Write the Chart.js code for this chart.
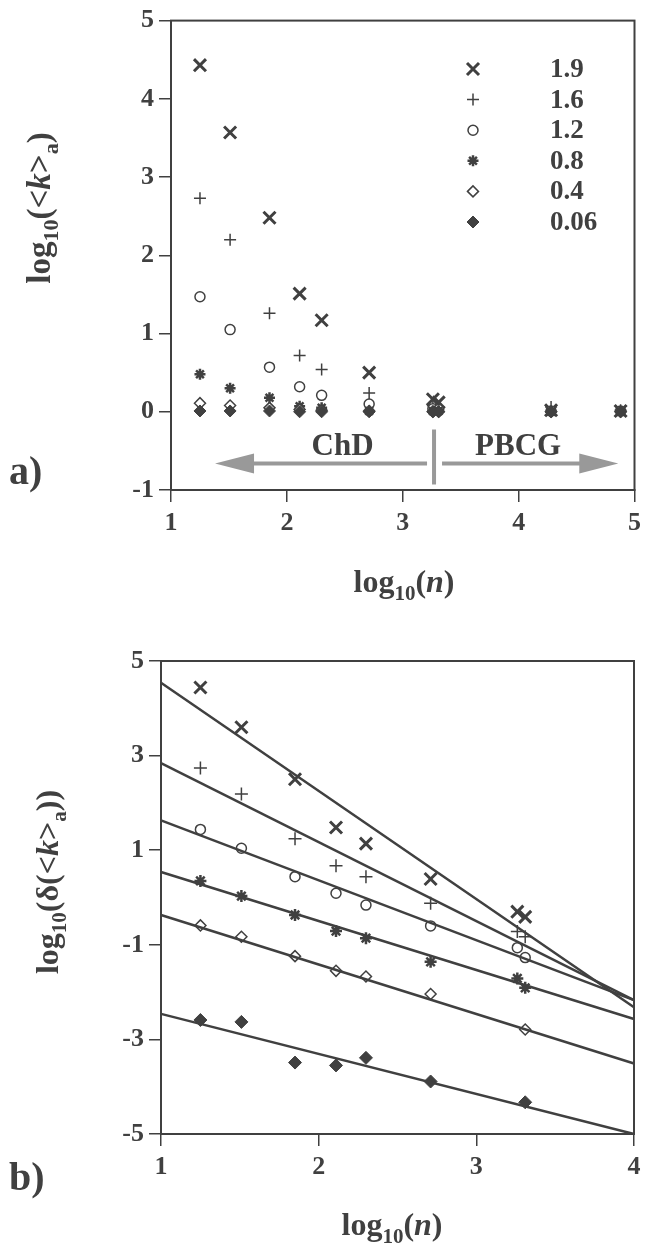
<!DOCTYPE html>
<html>
<head>
<meta charset="utf-8">
<script src="https://cdn.jsdelivr.net/npm/chart.js@4.4.1/dist/chart.umd.min.js"></script>
<style>
  body { margin: 0; background: #fff; width: 647px; height: 1250px; overflow: hidden; }
  .panel { position: absolute; left: 0; width: 647px; }
  #panelA { top: 0; height: 620px; }
  #panelB { top: 620px; height: 630px; }
</style>
</head>
<body>
<div class="panel" id="panelA"><canvas id="chartA" width="647" height="620"></canvas></div>
<div class="panel" id="panelB"><canvas id="chartB" width="647" height="630"></canvas></div>
<script>
// ---- data ----
const seriesNames = ['1.9', '1.6', '1.2', '0.8', '0.4', '0.06'];

// panel a: log10(<k>_a) against log10(n)
const logN = [1.25, 1.51, 1.85, 2.11, 2.30, 2.71, 3.26, 3.31, 4.28, 4.88];
const k19 = [4.43, 3.57, 2.48, 1.51, 1.17, 0.50, 0.16, 0.12, 0.02, 0.01];
const k16 = [2.73, 2.20, 1.26, 0.72, 0.54, 0.24, 0.08, 0.06, 0.06, 0.02];
const k12 = [1.47, 1.05, 0.57, 0.32, 0.21, 0.10, 0.04, 0.03, 0.01, 0.01];
const k08 = [0.48, 0.30, 0.18, 0.07, 0.05, 0.01, 0.01, 0.01, 0.00, 0.00];
const k04 = [0.11, 0.08, 0.05, 0.03, 0.02, 0.01, 0.00, 0.00, 0.00, 0.00];
const k006 = [0.01, 0.01, 0.01, 0.00, 0.00, 0.00, 0.00, 0.00, 0.00, 0.00];

// panel b: log10(delta(<k>_a)) against log10(n), with fitted lines
const logNb = [1.25, 1.51, 1.85, 2.11, 2.30, 2.71, 3.26, 3.31];
const d19 = [4.44, 3.60, 2.50, 1.48, 1.14, 0.39, -0.30, -0.41];
const d16 = [2.74, 2.19, 1.24, 0.67, 0.44, -0.12, -0.72, -0.83];
const d12 = [1.44, 1.04, 0.44, 0.09, -0.16, -0.60, -1.06, -1.27];
const d08 = [0.35, 0.03, -0.37, -0.71, -0.86, -1.36, -1.71, -1.91];
const d04 = [-0.59, -0.83, -1.24, -1.55, -1.67, -2.04, null, -2.79];
const d006 = [-2.59, -2.63, -3.49, -3.55, -3.39, -3.89, null, -4.33];

const fitX = [1, 4];
const fit19 = [4.54, -2.32];
const fit16 = [2.84, -2.17];
const fit12 = [1.63, -2.17];
const fit08 = [0.54, -2.57];
const fit04 = [-0.37, -3.51];
const fit006 = [-2.46, -5.00];

const ticksA_x = [1, 2, 3, 4, 5];
const ticksA_y = [-1, 0, 1, 2, 3, 4, 5];
const ticksB_x = [1, 2, 3, 4];
const ticksB_y = [-5, -3, -1, 1, 3, 5];

// ChD / PBCG split on panel a
const splitAt = 3.27;
const arrowRange = [1.38, 4.86];
const arrowLevel = -0.66;

// ---- styles ----
const INK = '#404040';
const SERIF = '"Liberation Serif", "DejaVu Serif", serif';

const markA = [
  { pointStyle: 'crossRot', radius: 8.5, borderWidth: 3, fill: INK },
  { pointStyle: 'cross', radius: 6, borderWidth: 1.5, fill: INK },
  { pointStyle: 'circle', radius: 5, borderWidth: 1.5, fill: '#fff' },
  { pointStyle: 'star', radius: 5.5, borderWidth: 2.5, fill: INK },
  { pointStyle: 'rectRot', radius: 5.5, borderWidth: 1.5, fill: '#fff' },
  { pointStyle: 'rectRot', radius: 6, borderWidth: 1, fill: INK }
];
const markB = [
  { pointStyle: 'crossRot', radius: 8.5, borderWidth: 3, fill: INK },
  { pointStyle: 'cross', radius: 6.5, borderWidth: 1.5, fill: INK },
  { pointStyle: 'circle', radius: 5, borderWidth: 1.5, fill: '#fff' },
  { pointStyle: 'star', radius: 6, borderWidth: 2.5, fill: INK },
  { pointStyle: 'rectRot', radius: 5.5, borderWidth: 1.5, fill: '#fff' },
  { pointStyle: 'rectRot', radius: 6.5, borderWidth: 1, fill: INK }
];

function pts(xs, ys) {
  return xs.map((x, i) => ({ x: x, y: ys[i] })).filter(p => p.y !== null);
}

function markerSet(label, data, m) {
  return {
    type: 'scatter',
    label: label,
    data: data,
    pointStyle: m.pointStyle,
    pointRadius: m.radius,
    pointBorderWidth: m.borderWidth,
    pointBorderColor: INK,
    pointBackgroundColor: m.fill,
    showLine: false,
    clip: false
  };
}

// text with sub/italic pieces: [text, size, italic, dy]
function drawRich(ctx, parts, cx, cy) {
  let total = 0;
  parts.forEach(p => {
    ctx.font = (p[2] ? 'italic ' : '') + 'bold ' + p[1] + 'px ' + SERIF;
    total += ctx.measureText(p[0]).width;
  });
  let x = cx - total / 2;
  ctx.textBaseline = 'alphabetic';
  ctx.textAlign = 'left';
  parts.forEach(p => {
    ctx.font = (p[2] ? 'italic ' : '') + 'bold ' + p[1] + 'px ' + SERIF;
    ctx.fillText(p[0], x, cy + (p[3] || 0));
    x += ctx.measureText(p[0]).width;
  });
}

const titleN = [['log', 32], ['10', 21, false, 8], ['(', 32], ['n', 32, true], [')', 32]];
const titleK = [['log', 33], ['10', 22, false, 8], ['(<', 33], ['k', 33, true], ['>', 33], ['a', 22, false, 8], [')', 33]];
const titleDK = [['log', 32], ['10', 21, false, 8], ['(\u03B4(<', 32], ['k', 32, true], ['>', 32], ['a', 21, false, 8], ['))', 32]];

function frameAndTitles(cfg) {
  return {
    id: 'frame' + cfg.tag,
    afterDraw(chart) {
      const ctx = chart.ctx;
      const a = chart.chartArea;
      ctx.save();
      ctx.strokeStyle = INK;
      ctx.lineWidth = 2;
      ctx.strokeRect(a.left, a.top, a.right - a.left, a.bottom - a.top);
      ctx.fillStyle = INK;
      drawRich(ctx, titleN, cfg.xTitle[0], cfg.xTitle[1]);
      ctx.save();
      ctx.translate(cfg.yTitle[0], cfg.yTitle[1]);
      ctx.rotate(-Math.PI / 2);
      drawRich(ctx, cfg.yParts, 0, 0);
      ctx.restore();
      ctx.font = 'bold 40px ' + SERIF;
      ctx.textAlign = 'left';
      ctx.textBaseline = 'alphabetic';
      ctx.fillText(cfg.panel, cfg.panelPos[0], cfg.panelPos[1]);
      ctx.restore();
    }
  };
}

function axisCommon(min, max, values, fixSize, isX) {
  return {
    type: 'linear',
    min: min,
    max: max,
    afterBuildTicks: s => { s.ticks = values.map(v => ({ value: v })); },
    ticks: {
      color: INK,
      font: { family: SERIF, size: 26, weight: 'bold' },
      padding: isX ? 6 : 5,
      autoSkip: false,
      maxRotation: 0,
      callback: v => String(v)
    },
    grid: { drawOnChartArea: false, drawTicks: true, tickLength: 12, color: INK, lineWidth: 1.5 },
    border: { display: true, color: INK, width: 2 },
    afterFit: s => { if (isX) s.height = fixSize; else s.width = fixSize; }
  };
}

// ---- panel a ----
const arrowsPlugin = {
  id: 'arrows',
  afterDatasetsDraw(chart) {
    const ctx = chart.ctx;
    const xs = chart.scales.x, ys = chart.scales.y;
    const y = ys.getPixelForValue(arrowLevel);
    const xl = xs.getPixelForValue(arrowRange[0]);
    const xr = xs.getPixelForValue(arrowRange[1]);
    const xm = xs.getPixelForValue(splitAt);
    ctx.save();
    ctx.strokeStyle = '#999';
    ctx.fillStyle = '#999';
    ctx.lineWidth = 4;
    ctx.beginPath();
    ctx.moveTo(xl + 36, y); ctx.lineTo(xm - 7, y);
    ctx.moveTo(xm + 8, y); ctx.lineTo(xr - 36, y);
    ctx.moveTo(xm, y - 34); ctx.lineTo(xm, y + 21);
    ctx.stroke();
    ctx.beginPath();
    ctx.moveTo(xl, y); ctx.lineTo(xl + 39, y - 10); ctx.lineTo(xl + 39, y + 10); ctx.closePath();
    ctx.moveTo(xr, y); ctx.lineTo(xr - 39, y - 10); ctx.lineTo(xr - 39, y + 10); ctx.closePath();
    ctx.fill();
    ctx.fillStyle = INK;
    ctx.font = 'bold 31px ' + SERIF;
    ctx.textAlign = 'center';
    ctx.textBaseline = 'alphabetic';
    ctx.fillText('ChD', (xl + xm) / 2 + 18, y - 8);
    ctx.fillText('PBCG', (xm + xr) / 2 - 8, y - 8);

    // legend
    ctx.font = 'bold 27px ' + SERIF;
    ctx.textAlign = 'left';
    ctx.textBaseline = 'middle';
    seriesNames.forEach((name, i) => {
      const ly = 69 + i * 30.6;
      const m = markA[i];
      ctx.lineWidth = m.borderWidth;
      ctx.strokeStyle = INK;
      ctx.fillStyle = m.fill;
      Chart.helpers.drawPoint(ctx, { pointStyle: m.pointStyle, radius: m.radius, rotation: 0, borderWidth: m.borderWidth }, 473, ly);
      ctx.fillStyle = INK;
      ctx.fillText(name, 550, ly + 1);
    });
    ctx.restore();
  }
};

const setsA = [k19, k16, k12, k08, k04, k006].map((ys, i) => markerSet(seriesNames[i], pts(logN, ys), markA[i]));

new Chart(document.getElementById('chartA'), {
  type: 'scatter',
  data: { datasets: setsA.slice().reverse() },
  options: {
    responsive: false,
    animation: false,
    layout: { padding: { top: 18, right: 4, left: 0, bottom: 0 } },
    plugins: { legend: { display: false }, tooltip: { enabled: false } },
    scales: {
      x: axisCommon(1, 5, ticksA_x, 130, true),
      y: axisCommon(-1, 5, ticksA_y, 171, false)
    }
  },
  plugins: [arrowsPlugin, frameAndTitles({ tag: 'A', xTitle: [404, 592], yTitle: [50, 208], yParts: titleK, panel: 'a)', panelPos: [9, 484] })]
});

// ---- panel b ----
const setsB = [d19, d16, d12, d08, d04, d006].map((ys, i) => markerSet(seriesNames[i], pts(logNb, ys), markB[i]));
const fitsB = [fit19, fit16, fit12, fit08, fit04, fit006].map((ys, i) => ({
  type: 'line',
  label: 'fit ' + seriesNames[i],
  data: pts(fitX, ys),
  borderColor: INK,
  borderWidth: 2.5,
  pointRadius: 0,
  tension: 0,
  clip: false
}));

new Chart(document.getElementById('chartB'), {
  type: 'scatter',
  data: { datasets: fitsB.concat(setsB) },
  options: {
    responsive: false,
    animation: false,
    layout: { padding: { top: 41, right: 13, left: 0, bottom: 0 } },
    plugins: { legend: { display: false }, tooltip: { enabled: false } },
    scales: {
      x: axisCommon(1, 4, ticksB_x, 116, true),
      y: axisCommon(-5, 5, ticksB_y, 161, false)
    }
  },
  plugins: [frameAndTitles({ tag: 'B', xTitle: [392, 615], yTitle: [58, 262], yParts: titleDK, panel: 'b)', panelPos: [9, 570] })]
});
</script>
</body>
</html>
